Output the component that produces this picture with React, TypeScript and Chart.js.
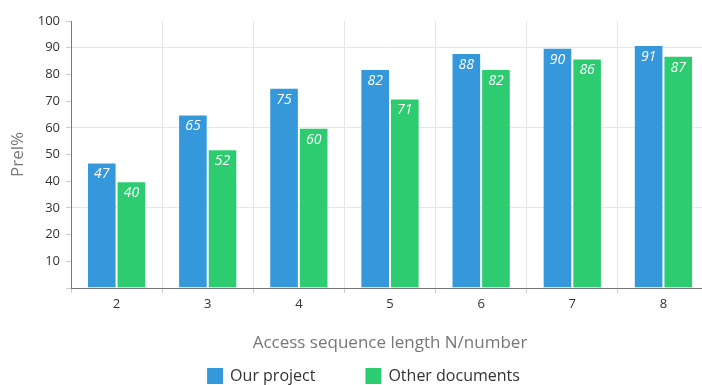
import React, { useEffect, useRef } from "react";
import { Chart, registerables } from "chart.js";

Chart.register(...registerables);

const categories = ["2", "3", "4", "5", "6", "7", "8"];
const ourProject = [47, 65, 75, 82, 88, 90, 91];
const otherDocuments = [40, 52, 60, 71, 82, 86, 87];
const seriesNames = ["Our project", "Other documents"];
const seriesColors = ["#3498db", "#2ecc71"];
const yTitle = "Prel%";
const xTitle = "Access sequence length N/number";

const FONT = "'Open Sans', 'DejaVu Sans', sans-serif";

const labelPlugin = {
  id: "valueLabels",
  afterDatasetsDraw(chart: any) {
    const ctx = chart.ctx;
    ctx.save();
    ctx.font = `italic 14px ${FONT}`;
    ctx.fillStyle = "#ffffff";
    ctx.textAlign = "center";
    ctx.textBaseline = "middle";
    chart.data.datasets.forEach((ds: any, di: number) => {
      const meta = chart.getDatasetMeta(di);
      meta.data.forEach((bar: any, i: number) => {
        ctx.fillText(String(ds.data[i]), bar.x, bar.y + 12);
      });
    });
    ctx.restore();
  },
};

const legendPlugin = {
  id: "customLegend",
  afterDraw(chart: any) {
    const ctx = chart.ctx;
    ctx.save();
    ctx.font = `16px ${FONT}`;
    ctx.textBaseline = "middle";
    ctx.textAlign = "left";
    const box = 16;
    const gapText = 7;
    const gapItem = 50;
    const widths = seriesNames.map((n) => box + gapText + ctx.measureText(n).width);
    const total = widths.reduce((a, b) => a + b, 0) + gapItem * (widths.length - 1);
    let x = chart.width / 2 - total / 2;
    const cy = 376;
    seriesNames.forEach((n, i) => {
      ctx.fillStyle = seriesColors[i];
      ctx.fillRect(x, cy - box / 2, box, box);
      ctx.fillStyle = "#333";
      ctx.fillText(n, x + box + gapText, cy);
      x += widths[i] + gapItem;
    });
    ctx.restore();
  },
};

export default function App() {
  const ref = useRef<HTMLCanvasElement | null>(null);
  useEffect(() => {
    if (!ref.current) return;
    const chart = new Chart(ref.current, {
      type: "bar",
      data: {
        labels: categories,
        datasets: [
          {
            label: seriesNames[0],
            data: ourProject,
            backgroundColor: seriesColors[0],
            borderColor: "rgba(255,255,255,0.35)",
            borderWidth: 1,
          },
          {
            label: seriesNames[1],
            data: otherDocuments,
            backgroundColor: seriesColors[1],
            borderColor: "rgba(255,255,255,0.35)",
            borderWidth: 1,
          },
        ],
      },
      options: {
        responsive: false,
        animation: false,
        devicePixelRatio: 1,
        layout: { padding: { top: 21, right: 18, bottom: 30, left: 0 } },
        plugins: {
          legend: { display: false },
          tooltip: { enabled: false },
        },
        datasets: {
          bar: { categoryPercentage: 0.65, barPercentage: 1 },
        },
        scales: {
          x: {
            afterFit: (s: any) => {
              s.height = 67;
            },
            grid: {
              offset: true,
              color: "#e6e6e6",
              tickColor: "#cccccc",
              tickLength: 5,
            },
            border: { color: "#777", width: 1 },
            ticks: {
              padding: 3,
              color: "#333",
              font: { family: FONT, size: 13 },
            },
            title: {
              display: true,
              text: xTitle,
              color: "#777",
              font: { family: FONT, size: 17 },
              padding: { top: 0, bottom: 2 },
            },
          },
          y: {
            min: 0,
            max: 100,
            afterFit: (s: any) => {
              s.width = 71;
            },
            grid: {
              color: (c: any) =>
                c.tick && c.tick.value !== 0 && c.tick.value % 30 === 0 ? "#e6e6e6" : "rgba(0,0,0,0)",
              tickColor: "#cccccc",
              tickLength: 5,
            },
            border: { color: "#777", width: 1 },
            ticks: {
              stepSize: 10,
              padding: 6,
              color: "#333",
              font: { family: FONT, size: 13 },
              callback: (v: any) => (Number(v) === 0 ? "" : String(v)),
            },
            title: {
              display: true,
              text: yTitle,
              color: "#777",
              font: { family: FONT, size: 17 },
              padding: { top: 8, bottom: 0 },
            },
          },
        },
      },
      plugins: [labelPlugin, legendPlugin],
    } as any);
    return () => chart.destroy();
  }, []);
  return (
    <div
      style={{
        position: "fixed",
        left: 0,
        top: 0,
        width: 702,
        height: 385,
        overflow: "hidden",
        background: "#fff",
      }}
    >
      <canvas ref={ref} width={727} height={385} style={{ display: "block" }} />
    </div>
  );
}
